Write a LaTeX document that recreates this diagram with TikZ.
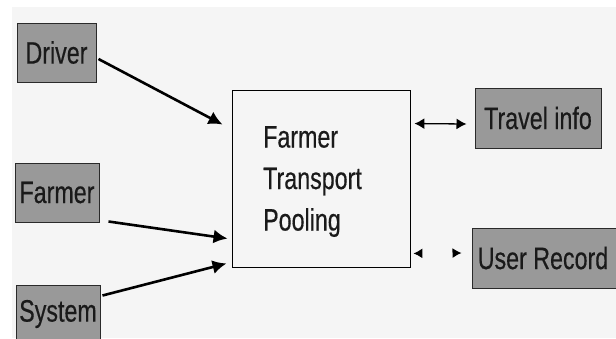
\documentclass[tikz,border=0pt]{standalone}
\usepackage{fontspec}
\setmainfont{Liberation Sans}
\newfontfamily\narrowsans[FakeStretch=0.75,FakeBold=0.4]{Liberation Sans}
\usetikzlibrary{arrows.meta,calc}
\definecolor{paper}{HTML}{F5F5F5}
\definecolor{boxgray}{HTML}{999999}
\definecolor{edge}{HTML}{2A2A2A}
\definecolor{ink}{HTML}{1A1A1A}
\tikzset{
  actor/.style={draw=edge, line width=1pt, fill=boxgray, inner sep=0pt,
    font={\narrowsans\fontsize{31}{37}\selectfont}, text=ink},
  core/.style={draw=black, line width=0.9pt, fill=paper, inner sep=0pt},
  flow/.style={line width=2.6pt, -{Latex[length=14pt,width=14pt]}},
  link/.style={line width=1.3pt, {Latex[length=10pt,width=11pt]}-{Latex[length=10pt,width=11pt]}},
  ghostlink/.style={draw=paper, line width=1.3pt,
    {Latex[black,length=9pt,width=10pt]}-{Latex[black,length=9pt,width=10pt]}}
}
\begin{document}
\begin{tikzpicture}[x=1pt,y=-1pt]
  \useasboundingbox (0,0) rectangle (616,338);
  \clip (0,0) rectangle (616,338);
  % page background
  \fill[paper] (12,7) rectangle (616,338);

  % actors on the left
  \node[actor, minimum width=79pt, minimum height=59pt] (driver) at (56.5,52.5) {Driver};
  \node[actor, minimum width=84pt, minimum height=59pt] (farmer) at (57,192.5) {Farmer};
  \node[actor, minimum width=84pt, minimum height=58pt] (system) at (58,314) {System};

  % central process
  \node[core, minimum width=178pt, minimum height=177pt] (pool) at (321,178.5) {};
  \node[anchor=north west, inner sep=0pt, align=left, text=ink,
        font={\narrowsans\fontsize{31}{41.5}\selectfont}] (pooltext) at (263,126)
        {Farmer\\Transport\\Pooling};

  % data stores on the right
  \node[actor, minimum width=126pt, minimum height=60pt] (travel) at (538,118) {Travel info};
  \node[actor, minimum width=146pt, minimum height=60pt] (user) at (545,258) {};
  \node[font={\narrowsans\fontsize{31}{37}\selectfont}, text=ink, inner sep=0pt]
        (usertext) at (543,258) {User Record};

  % inputs
  \draw[flow] ($(driver.east)+(2,6.5)$) -- ($(pool.north west)+(-9,35)$);
  \draw[flow] ($(farmer.south east)+(9,-1)$) -- ($(pool.north west)+(-4,149)$);
  \draw[flow] ($(system.north east)+(2,11)$) -- ($(pool.south west)+(-5,-4)$);

  % exchanges
  \draw[link] ($(pool.north east)+(4,34)$) -- ($(travel.west)+(-8,6)$);
  \draw[ghostlink] ($(pool.south east)+(3,-14)$) -- ($(user.west)+(-10,-5)$);
\end{tikzpicture}
\end{document}
